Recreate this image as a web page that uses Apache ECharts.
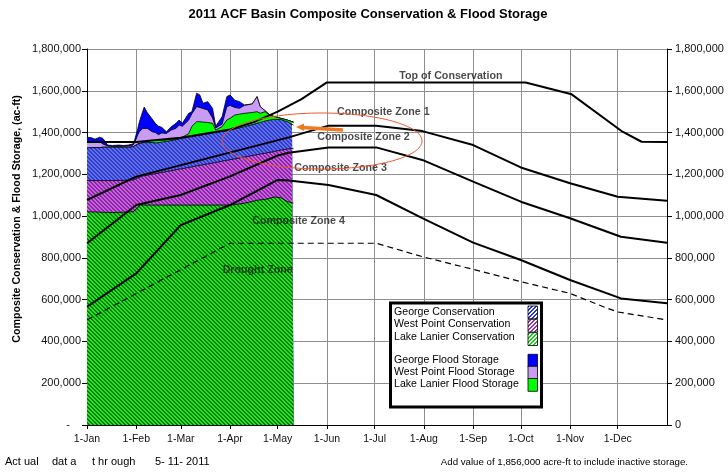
<!DOCTYPE html>
<html><head><meta charset="utf-8">
<script src="https://cdn.jsdelivr.net/npm/echarts@6/dist/echarts.min.js"></script>
<style>html,body{margin:0;padding:0;background:#fff}#c{width:728px;height:475px}</style>
</head><body><div id="c"></div>
<script>
// ---- axis categories ----
const monthDays = [0,31,59,90,120,151,181,212,243,273,304,334];
const monthLabels = ['1-Jan','1-Feb','1-Mar','1-Apr','1-May','1-Jun','1-Jul','1-Aug','1-Sep','1-Oct','1-Nov','1-Dec'];

// ---- actual storage (cumulative tops, thousand ac-ft), day of year ----
const obsDays = [0,3,5,8,10,13,16,20,23,26,29,30,32,33,35,36,38,41,43,45,47,50,53,56,58,60,64,66,69,71,73,76,79,81,85,88,90,93,96,99,100,104,107,109,112,115,118,122,126,129,130];
const lanierCons = [1021,1020,1020,1019,1018,1018,1017,1018,1019,1020,1021,1022,1040,1053,1053,1053,1053,1053,1053,1053,1053,1053,1053,1053,1053,1053,1053,1053,1053,1053,1053,1053,1053,1053,1053,1053,1053,1055,1058,1062,1064,1070,1076,1078,1080,1085,1092,1088,1070,1064,1062];
const westPointCons = [1170,1170,1170,1170,1170,1170,1170,1171,1171,1172,1173,1175,1183,1189,1192,1193,1196,1200,1203,1206,1209,1213,1217,1222,1225,1227,1233,1236,1240,1243,1246,1250,1254,1257,1263,1267,1270,1274,1278,1283,1284,1290,1294,1297,1301,1305,1310,1316,1321,1324,1324];
const georgeCons = [1326,1328,1328,1328,1330,1330,1330,1330,1330,1330,1332,1336,1345,1350,1352,1352,1352,1352,1350,1352,1354,1358,1362,1366,1370,1373,1378,1381,1385,1387,1390,1394,1398,1400,1405,1410,1412,1418,1422,1428,1430,1438,1444,1448,1455,1460,1463,1462,1452,1440,1436];
const lanierFlood = [1326,1328,1328,1328,1330,1330,1330,1330,1330,1330,1332,1336,1345,1350,1352,1354,1360,1363,1362,1362,1363,1365,1368,1371,1375,1378,1395,1430,1452,1452,1450,1448,1444,1412,1428,1460,1468,1484,1488,1492,1493,1496,1500,1492,1500,1484,1476,1468,1460,1452,1450];
const westPointFlood = [1356,1358,1352,1356,1345,1336,1334,1334,1335,1336,1340,1352,1390,1404,1420,1428,1420,1404,1400,1390,1398,1396,1412,1420,1436,1430,1460,1490,1524,1520,1515,1508,1470,1422,1440,1524,1530,1520,1516,1530,1532,1537,1572,1524,1505,1484,1476,1468,1460,1452,1450];
const georgeFlood = [1378,1375,1368,1378,1372,1340,1338,1340,1338,1340,1346,1365,1420,1452,1500,1522,1495,1465,1444,1430,1425,1404,1428,1444,1460,1444,1492,1500,1588,1580,1540,1548,1516,1430,1476,1572,1580,1555,1548,1532,1532,1537,1572,1524,1505,1484,1476,1468,1460,1452,1450];

// ---- rule curves (thousand ac-ft) ----
const topConsDays = [0,31,59,90,105,120,135,151,276,305,337,349,365];
const topCons = [1355,1355,1375,1415,1450,1500,1560,1640,1640,1583,1404,1356,1355];
const zone12Days = [0,31,127,152,182,211,243,273,304,334,365];
const zone12 = [1077,1189,1377,1433,1433,1407,1340,1233,1157,1093,1074];
const zone23Days = [0,31,59,90,120,127,152,182,211,243,273,304,336,365];
const zone23 = [870,1053,1101,1190,1290,1303,1329,1329,1269,1165,1069,990,901,873];
const zone34Days = [0,31,59,90,120,127,152,182,211,243,273,304,336,365];
const zone34 = [566,726,957,1053,1173,1170,1149,1101,990,873,790,694,606,583];
const droughtDays = [0,90,182,211,243,273,304,326,334,365];
const drought = [503,870,870,806,745,686,630,563,541,503];

const FONT = '"Liberation Sans", Arial, sans-serif';

function hatch(bg, fg, dir, w){
  const c = document.createElement('canvas'); c.width = 4; c.height = 4;
  const g = c.getContext('2d');
  g.fillStyle = bg; g.fillRect(0,0,4,4);
  g.fillStyle = fg;
  for (let i=0;i<4;i++){
    const x = dir>0 ? (3-i) : i;
    g.fillRect(x,i,1,1); if (w>1) g.fillRect((x+1)%4,i,1,1);
  }
  return {image:c, repeat:'repeat'};
}
function pair(days, vals){ return days.map((d,i)=>[d, vals[i]]); }

const cGF = '#0000FF', cWF = '#C89CF2', cLF = '#00FF00';
const pGC = hatch('#2E3CC8','#6270EC',-1,2);
const pWC = hatch('#CC5FE6','#86299F',-1,2);
const pLC = hatch('#1DEA1D','#0C7C0C',-1,2);
const lGC = hatch('#2233DD','#FFFFFF',1,2);
const lWC = hatch('#A030B0','#FFFFFF',1,2);
const lLC = hatch('#10D010','#FFFFFF',1,2);

const areas = [
  [georgeFlood, cGF],[westPointFlood, cWF],[lanierFlood, cLF],
  [georgeCons, pGC],[westPointCons, pWC],[lanierCons, pLC]
];
const series = [];
areas.forEach((a,i)=>{
  series.push({type:'line', data: pair(obsDays, a[0]), symbol:'none', z:2+i*0.01,
    lineStyle:{color:'#000', width:0.8}, areaStyle:{color:a[1], opacity:1}, silent:true});
});
[[topConsDays, topCons],[zone12Days, zone12],[zone23Days, zone23],[zone34Days, zone34]].forEach(r=>{
  series.push({type:'line', data: pair(r[0], r[1]), symbol:'none', z:5,
    lineStyle:{color:'#000', width:2}, silent:true});
});
series.push({type:'line', data: pair(droughtDays, drought), symbol:'none', z:5,
  lineStyle:{color:'#000', width:1.2, type:[6,4]}, silent:true});
series.push({type:'scatter', symbolSize:1, itemStyle:{color:'transparent'}, z:6, silent:true,
  label:{show:true, position:'inside', formatter:'{b}', fontFamily:FONT, fontWeight:'bold', fontSize:10.7, color:'#1a1a1a'},
  data:[
    {name:'Top of Conservation', value:[229,1671]},
    {name:'Composite Zone 1', value:[186.5,1498]},
    {name:'Composite Zone 2', value:[174,1380]},
    {name:'Composite Zone 3', value:[159.6,1229]},
    {name:'Composite Zone 4', value:[133.2,974]},
    {name:'Drought Zone', value:[107.4,742]}
  ]});

const legendItems = [
  ['George Conservation', lGC, 312],
  ['West Point Conservation', lWC, 324.5],
  ['Lake Lanier Conservation', lLC, 337],
  ['George Flood Storage', cGF, 360],
  ['West Point Flood Storage', cWF, 372.3],
  ['Lake Lanier Flood Storage', cLF, 384.5]
];
const swatchY = [306,319.3,332.7,354.3,366.3,378.5];
const graphics = [
  {type:'text', x:368, y:14, z:100, style:{text:'2011 ACF Basin Composite Conservation & Flood Storage', font:'bold 13px '+FONT, fill:'#000', textAlign:'center', textVerticalAlign:'middle'}},
  {type:'text', x:17, y:219, rotation:Math.PI/2, z:100, style:{text:'Composite Conservation & Flood Storage, (ac-ft)', font:'bold 10.7px '+FONT, fill:'#000', textAlign:'center', textVerticalAlign:'middle'}},
  {type:'text', x:5, y:462, z:100, style:{text:'Act ual', font:'11px '+FONT, fill:'#000', textVerticalAlign:'middle'}},
  {type:'text', x:52, y:462, z:100, style:{text:'dat a', font:'11px '+FONT, fill:'#000', textVerticalAlign:'middle'}},
  {type:'text', x:92, y:462, z:100, style:{text:'t hr ough', font:'11px '+FONT, fill:'#000', textVerticalAlign:'middle'}},
  {type:'text', x:155, y:462, z:100, style:{text:'5- 11- 2011', font:'11px '+FONT, fill:'#000', textVerticalAlign:'middle'}},
  {type:'text', x:688, y:462, z:100, style:{text:'Add value of 1,856,000 acre-ft to include inactive storage.', font:'9.7px '+FONT, fill:'#000', textAlign:'right', textVerticalAlign:'middle'}},
  {type:'rect', z:100, shape:{x:390.5,y:303,width:151,height:104}, style:{fill:'#fff', stroke:'#000', lineWidth:3}},
  {type:'ellipse', z:110, shape:{cx:322, cy:141, rx:100, ry:28}, style:{fill:'none', stroke:'#EE5530', lineWidth:1}},
  {type:'polyline', z:111, shape:{points:[[343,130],[302,127.5]]}, style:{stroke:'#F07820', lineWidth:3.5, fill:'none'}},
  {type:'polygon', z:111, shape:{points:[[296,127],[304,123.5],[304,131]]}, style:{fill:'#F07820'}}
];
legendItems.forEach((it,i)=>{
  graphics.push({type:'text', z:101, x:394, y:it[2], style:{text:it[0], font:'10.6px '+FONT, fill:'#000', textVerticalAlign:'middle'}});
  graphics.push({type:'rect', z:101, shape:{x:528,y:swatchY[i],width:9.5,height:12.8}, style:{fill:it[1], stroke:'#000', lineWidth:0.8}});
});

const option = {
  animation:false,
  grid:{left:87, right:61, top:49, bottom:50},
  xAxis:{type:'value', min:0, max:365,
    axisLine:{show:true, onZero:false, lineStyle:{color:'#000', width:1}},
    axisTick:{show:true, length:4, customValues: monthDays, lineStyle:{color:'#000'}},
    axisLabel:{customValues: monthDays, margin:9, fontFamily:FONT, fontSize:10.5, color:'#111',
      formatter: v=> monthLabels[monthDays.indexOf(v)] || ''},
    splitLine:{show:true, lineStyle:{color:'#8f8f8f', width:1}}},
  yAxis:[
    {type:'value', min:0, max:1800, interval:200, position:'left',
      axisLine:{show:true, lineStyle:{color:'#000'}},
      axisTick:{show:true, length:5, lineStyle:{color:'#000'}},
      axisLabel:{margin:6, fontFamily:FONT, fontSize:11, color:'#111',
        formatter: v=> v===0 ? '{d|-}' : (v*1000).toLocaleString('en-US'),
        rich:{d:{fontFamily:FONT, fontSize:11, color:'#111', padding:[0,11,0,0]}}},
      splitLine:{show:true, lineStyle:{color:'#8f8f8f', width:1}}},
    {type:'value', min:0, max:1800, interval:200, position:'right',
      axisLine:{show:true, lineStyle:{color:'#000'}},
      axisTick:{show:true, length:5, lineStyle:{color:'#000'}},
      axisLabel:{margin:8, fontFamily:FONT, fontSize:11, color:'#111',
        formatter: v=> (v*1000).toLocaleString('en-US')},
      splitLine:{show:false}}
  ],
  series: series,
  graphic: graphics
};
const chart = echarts.init(document.getElementById('c'));
chart.setOption(option);
</script></body></html>
